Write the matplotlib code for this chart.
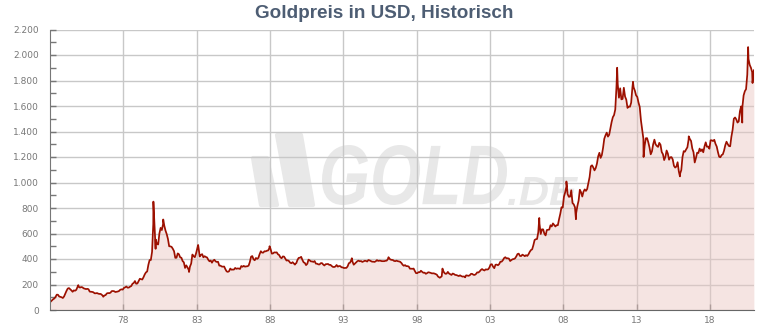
import numpy as np
import matplotlib
matplotlib.use('Agg')
import matplotlib.pyplot as plt
from matplotlib.textpath import TextPath
from matplotlib.patches import PathPatch, Polygon
from matplotlib.font_manager import FontProperties
from matplotlib.transforms import Affine2D, IdentityTransform
from matplotlib.ticker import MultipleLocator, FuncFormatter

## Monthly gold price in USD, one row per year, starting 1973
start_year = 1973
monthly = [
    65, 74, 84, 90, 102, 120, 120, 106, 103, 100, 94, 106,          # 1973
    129, 150, 168, 172, 163, 154, 143, 154, 151, 158, 181, 183,     # 1974
    176, 180, 178, 170, 167, 164, 166, 163, 144, 143, 142, 139,     # 1975
    131, 131, 133, 128, 126, 126, 118, 110, 114, 117, 130, 133,     # 1976
    132, 136, 148, 149, 147, 141, 143, 145, 149, 159, 162, 160,     # 1977
    173, 178, 184, 175, 176, 183, 188, 206, 212, 227, 206, 208,     # 1978
    227, 245, 242, 239, 257, 279, 295, 302, 355, 392, 392, 456,     # 1979
    675, 665, 553, 517, 514, 600, 644, 627, 673, 662, 623, 595,     # 1980
    557, 500, 499, 495, 480, 461, 409, 410, 444, 437, 413, 410,     # 1981
    384, 374, 330, 350, 334, 315, 340, 364, 435, 422, 414, 444,     # 1982
    481, 491, 420, 432, 438, 413, 422, 416, 412, 394, 382, 388,     # 1983
    371, 387, 394, 381, 377, 378, 348, 348, 341, 340, 341, 320,     # 1984
    303, 299, 304, 325, 316, 317, 317, 330, 323, 326, 325, 322,     # 1985
    345, 339, 346, 340, 342, 343, 348, 376, 418, 423, 398, 390,     # 1986
    408, 401, 409, 438, 461, 450, 450, 461, 460, 465, 467, 486,     # 1987
    477, 442, 444, 452, 451, 452, 437, 431, 413, 406, 420, 419,     # 1988
    404, 388, 390, 384, 371, 367, 375, 365, 362, 367, 393, 409,     # 1989
    410, 417, 393, 374, 369, 352, 362, 395, 389, 381, 381, 377,     # 1990
    384, 364, 363, 358, 357, 367, 368, 357, 349, 359, 360, 361,     # 1991
    354, 354, 345, 338, 337, 341, 353, 340, 345, 344, 335, 334,     # 1992
    329, 330, 330, 342, 367, 371, 392, 379, 355, 364, 373, 383,     # 1993
    387, 382, 384, 377, 381, 386, 385, 380, 392, 389, 384, 379,     # 1994
    379, 377, 382, 391, 385, 387, 386, 383, 383, 383, 386, 387,     # 1995
    400, 405, 396, 393, 392, 385, 383, 387, 383, 381, 378, 369,     # 1996
    355, 347, 352, 344, 344, 341, 324, 324, 323, 325, 306, 289,     # 1997
    289, 297, 296, 308, 299, 292, 293, 284, 289, 296, 294, 291,     # 1998
    287, 288, 286, 282, 277, 262, 256, 257, 264, 311, 293, 284,     # 1999
    285, 299, 286, 280, 275, 286, 282, 275, 274, 270, 266, 272,     # 2000
    266, 262, 263, 261, 272, 270, 268, 273, 284, 283, 276, 275,     # 2001
    282, 295, 294, 302, 314, 321, 314, 310, 319, 317, 319, 333,     # 2002
    357, 359, 340, 328, 355, 356, 351, 360, 379, 379, 390, 407,     # 2003
    414, 405, 406, 403, 384, 392, 398, 400, 405, 420, 439, 442,     # 2004
    424, 423, 434, 429, 422, 430, 424, 437, 456, 470, 476, 509,     # 2005
    549, 555, 557, 610, 676, 596, 633, 632, 598, 585, 627, 629,     # 2006
    631, 665, 655, 679, 667, 655, 665, 665, 712, 754, 806, 803,     # 2007
    889, 922, 968, 909, 888, 889, 939, 839, 829, 806, 760, 816,     # 2008
    858, 943, 924, 890, 928, 946, 934, 949, 996, 1043, 1127, 1135,  # 2009
    1118, 1095, 1113, 1148, 1205, 1233, 1193, 1215, 1271, 1343, 1370, 1391,  # 2010
    1360, 1374, 1424, 1474, 1512, 1529, 1573, 1756, 1772, 1665, 1739, 1652,  # 2011
    1656, 1743, 1674, 1650, 1585, 1596, 1594, 1626, 1744, 1747, 1721, 1684,  # 2012
    1671, 1627, 1593, 1487, 1414, 1343, 1286, 1347, 1348, 1316, 1275, 1221,  # 2013
    1244, 1300, 1336, 1299, 1287, 1279, 1311, 1296, 1239, 1222, 1176, 1201,  # 2014
    1251, 1227, 1179, 1198, 1199, 1181, 1131, 1117, 1125, 1159, 1086, 1068,  # 2015
    1097, 1200, 1246, 1242, 1260, 1276, 1337, 1341, 1326, 1267, 1238, 1157,  # 2016
    1192, 1234, 1231, 1266, 1246, 1260, 1237, 1283, 1315, 1280, 1282, 1265,  # 2017
    1331, 1331, 1325, 1335, 1303, 1282, 1238, 1202, 1198, 1215, 1221, 1250,  # 2018
    1292, 1320, 1301, 1286, 1284, 1359, 1413, 1500, 1510, 1495, 1470, 1479,  # 2019
    1560, 1597, 1592, 1683, 1716, 1732, 1846, 1968, 1922, 1900, 1866, 1850,  # 2020
]

## Single day highs and lows (decimal year, USD)
spike_dates = [1974.93, 1976.63, 1980.05, 1980.2, 1980.72, 1982.48, 1983.1,
               1987.97, 1989.7, 1993.58, 1996.08, 1999.58, 1999.76, 2001.3,
               2006.36, 2008.21, 2008.86, 2011.67, 2012.75, 2013.47, 2015.95,
               2016.55, 2020.2, 2020.6, 2020.9, 2020.99]
spike_values = [195, 104, 850, 480, 710, 298, 510,
                500, 356, 406, 414, 253, 325, 256,
                722, 1008, 712, 1900, 1790, 1200, 1048,
                1362, 1470, 2062, 1780, 1880]

tick_years = [1978, 1983, 1988, 1993, 1998, 2003, 2008, 2013, 2018]
tick_labels = ['78', '83', '88', '93', '98', '03', '08', '13', '18']

# merge monthly values with the spikes
month_dates = start_year + (np.arange(len(monthly)) + 0.5) / 12.0
dates = np.concatenate([month_dates, spike_dates])
prices = np.concatenate([monthly, spike_values])
order = np.argsort(dates)
dates = dates[order]
prices = prices[order]

W, H = 770, 330
fig = plt.figure(figsize=(W / 100, H / 100), dpi=100)
ax = fig.add_axes([50 / W, 20 / H, 704 / W, 280.5 / H])

## Watermark (logo bars + GOLD.DE)
wm_color = '#e8e8e8'
bar1 = [(253, 158), (267, 158), (277, 205), (261, 205)]
bar2 = [(277, 135), (301, 135), (313, 205), (290, 205)]
for bar in [bar1, bar2]:
    poly = Polygon([(x, H - y) for x, y in bar], closed=True, transform=IdentityTransform(),
                   facecolor=wm_color, edgecolor=wm_color, linewidth=3, joinstyle='round', zorder=0.2)
    ax.add_artist(poly)

fp = FontProperties(family='Liberation Sans', weight='bold', style='italic')
def watermark_text(s, x0, x1, ytop, ybase):
    tp = TextPath((0, 0), s, size=100, prop=fp)
    ext = tp.get_extents()
    sx = (x1 - x0) / ext.width
    sy = (ybase - ytop) / ext.height
    tr = Affine2D().translate(-ext.x0, -ext.y0).scale(sx, sy).translate(x0, H - ybase)
    patch = PathPatch(tr.transform_path(tp), transform=IdentityTransform(),
                      facecolor=wm_color, edgecolor='none', zorder=0.2)
    ax.add_artist(patch)

watermark_text('GOLD', 322, 507, 145, 205)
watermark_text('.DE', 508, 578, 177, 205)

## Data
ax.fill_between(dates, prices, 0, color='#eac6c2', alpha=0.47, linewidth=0, zorder=1)
ax.plot(dates, prices, color='#9c1000', linewidth=1.25, zorder=2)

ax.set_xlim(1973, 2021)
ax.set_ylim(0, 2200)

# Axes styling
ax.set_axisbelow(True)
ax.yaxis.set_major_locator(MultipleLocator(200))
ax.yaxis.set_minor_locator(MultipleLocator(100))
ax.yaxis.set_major_formatter(FuncFormatter(lambda v, p: '{:,.0f}'.format(v).replace(',', '.')))
ax.set_xticks(tick_years)
ax.set_xticklabels(tick_labels)
ax.grid(True, which='major', color='#c8c8c8', linewidth=1)

for side in ['top', 'right']:
    ax.spines[side].set_visible(False)
ax.spines['left'].set_color('#777777')
ax.spines['bottom'].set_color('#666666')
ax.tick_params(axis='both', which='both', direction='in', color='#777777', labelcolor='#777777',
               labelsize=6.5, length=4, width=1)
ax.tick_params(axis='y', pad=8)
ax.tick_params(axis='x', pad=4)

fig.text(384 / W, 1 - 13 / H, 'Goldpreis in USD, Historisch', ha='center', va='center',
         fontsize=13.6, fontweight='bold', color='#4d5d73', family='Liberation Sans')

fig.savefig('out.png', dpi=100)
